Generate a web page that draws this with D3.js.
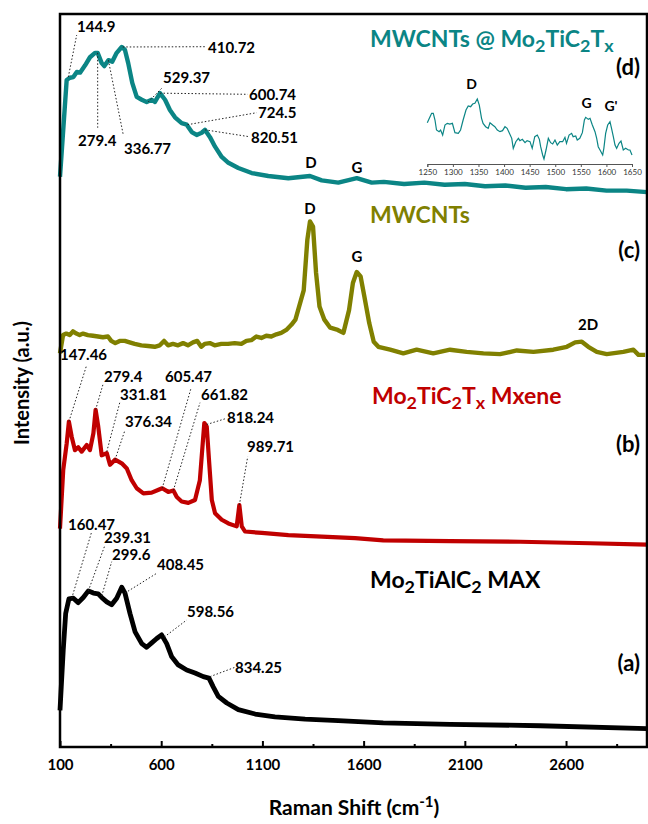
<!DOCTYPE html>
<html>
<head>
<meta charset="utf-8">
<script src="https://cdn.jsdelivr.net/npm/d3@7"></script>
<style>
body { margin: 0; background: #fff; }
text { font-family: Lato, "Open Sans", sans-serif; font-weight: bold; }
</style>
</head>
<body>
<svg id="chart" width="648" height="824"></svg>
<script>
// (a) Mo2TiAlC2 MAX
var a_shift = [100,116,128,144,166,190,215,240,265,289,306,331,355,380,405,421,446,471,504,528,553,578,602,627,652,684,726,767,808,836,857,882,924,981,1064,1162,1311,1475,1697,2027,2472,3000];
var a_int = [5.0,13.2,18.2,20.2,20.3,19.7,20.4,21.3,21.0,20.9,20.4,19.8,19.4,20.3,21.8,21.0,18.2,15.7,14.1,13.6,14.2,14.8,15.3,14.1,12.3,11.2,10.5,10.1,9.6,9.4,8.2,6.9,6.0,5.1,4.5,4.1,3.8,3.6,3.3,3.1,2.9,2.5];
// (b) Mo2TiC2Tx Mxene
var b_shift = [100,116,133,144,158,174,190,207,232,248,265,276,289,306,331,347,372,405,430,454,479,512,553,587,605,635,660,677,701,734,767,791,805,813,825,836,850,866,899,932,973,986,998,1014,1097,1228,1393,1558,1697,2027,2373,2719,3000];
var b_int = [29.8,37.8,41.4,44.4,42.3,40.5,40.9,40.3,41.2,40.5,42.8,46.0,43.7,39.8,40.1,38.5,39.2,38.7,38.0,36.4,35.3,34.6,34.7,35.1,35.3,34.8,35.0,34.1,33.5,33.3,33.7,36.4,41.4,44.2,43.7,39.2,33.7,31.9,31.0,30.5,30.1,33.0,30.1,29.4,29.2,28.9,28.7,28.5,28.2,28.1,28.0,27.8,27.6];
// (c) MWCNTs
var c_shift = [100,115,131,148,164,181,197,214,238,263,288,312,337,353,373,395,420,444,469,502,535,568,593,614,634,658,683,708,732,757,778,798,815,840,864,897,930,963,996,1021,1045,1070,1095,1119,1144,1169,1193,1218,1243,1263,1304,1322,1335,1350,1365,1382,1406,1435,1472,1500,1528,1547,1566,1585,1604,1628,1650,1673,1731,1796,1862,1944,2027,2109,2192,2274,2357,2439,2537,2604,2645,2678,2710,2752,2801,2883,2933,2958,2991];
var c_int = [53.7,56.2,56.4,56.2,56.7,56.4,56.2,56.4,56.2,56.1,56.0,55.9,56.0,55.4,55.1,55.4,55.4,55.2,55.0,54.8,54.7,54.6,54.8,55.4,54.8,55.0,54.8,55.1,54.8,55.2,55.4,54.6,55.0,55.1,54.8,55.0,55.0,55.1,55.0,55.4,55.5,56.0,55.8,56.1,56.0,56.3,56.5,56.9,57.6,58.3,62.3,69.2,71.7,71.0,64.7,60.1,58.3,57.2,56.9,56.5,59.6,63.3,64.8,64.2,61.4,57.8,55.3,54.6,54.2,53.7,54.2,53.7,54.2,53.9,53.7,53.6,54.1,53.9,54.2,54.6,55.2,55.3,54.6,53.9,53.6,53.9,54.2,53.5,53.5];
// (d) MWCNTs @ Mo2TiC2Tx
var d_shift = [100,133,149,166,183,199,224,248,273,286,306,319,339,358,380,405,421,437,457,479,504,528,553,569,594,619,643,668,701,726,751,775,800,816,841,866,899,932,981,1047,1129,1228,1335,1393,1475,1566,1640,1700,1800,1900,2000,2100,2200,2300,2400,2500,2600,2700,2800,2900,3000];
var d_int = [77.8,91.0,91.3,91.4,92.1,92.0,93.0,94.1,94.7,94.7,93.3,92.9,93.7,93.5,94.7,95.5,95.1,93.3,90.6,88.7,88.3,88.0,88.3,88.0,89.2,88.3,86.9,85.9,85.1,84.9,83.9,83.5,83.8,84.2,83.2,81.9,80.5,79.7,79.0,78.3,77.9,77.6,77.9,77.3,77.0,77.6,77.0,77.1,76.8,77.0,76.7,76.8,76.5,76.6,76.3,76.4,76.1,76.2,75.9,75.9,75.7];
// inset, 1250-1650 of (d)
var in_shift = [1250,1254,1258.5,1261.7,1265,1268,1273,1276,1280,1284.5,1289,1294,1299,1304,1310.6,1315,1320,1325.6,1330,1334.7,1338.6,1343,1347.7,1351.6,1356,1359,1364,1369,1372.5,1377.7,1382,1386.8,1392,1397,1401.8,1406,1410,1415,1418,1423,1428,1431,1435.7,1441,1445,1450.7,1455,1460,1465,1469,1471.5,1475.4,1478,1482,1486.5,1491,1495,1499.5,1504,1509,1514.5,1519,1522,1527,1532,1535,1540,1543,1548,1553,1557,1559.5,1564.7,1568,1572.5,1577.7,1581,1584,1587.5,1592.7,1595,1598.5,1602.5,1607,1610,1613.5,1616.8,1620,1624.6,1628.5,1633,1637.6,1643,1646,1650];
var in_int = [59,65.5,73,73,63,48,45.5,48,40.5,55.5,58,57,58,44,43,48,63,78,84,83,87,88,94.5,85.5,65.5,58,53,50.5,59,55.5,53,48,45.5,47,53,50.5,44,35.5,20.5,30.5,35.5,32,34,29,32,30.5,20.5,38,40.5,34,23,10.5,4.5,18,35.5,29,27,33,25.5,30.5,30.5,37,28,40.5,43,38,39,33,35.5,44,63,67,64,65.5,55.5,45.5,35.5,23,18,10.5,20.5,43,55.5,60.5,50.5,38,25.5,20.5,28,31.5,18,20.5,18,18,10.5];

var x_major = [100,600,1100,1600,2100,2600];
var x_minor = [350,850,1350,1850,2350,2850];
var in_ticks = [1250,1300,1350,1400,1450,1500,1550,1600,1650];

// peak labels: text, peak position [shift, intensity]
var a_peaks = [['160.47',[158,20.3]],['239.31',[240,21.3]],['299.6',[306,20.6]],['408.45',[421,21.0]],['598.56',[615,15.0]],['834.25',[841,9.6]]];
var b_peaks = [['147.46',[144,44.4]],['279.4',[276,46.0]],['331.81',[331,40.3]],['376.34',[372,39.2]],['605.47',[605,35.3]],['661.82',[660,35.0]],['818.24',[825,44.0]],['989.71',[986,33.0]]];
var d_peaks = [['144.9',[141,91.4]],['279.4',[286,94.7]],['336.77',[339,93.7]],['410.72',[410,95.5]],['529.37',[536,88.0]],['600.74',[594,89.2]],['724.5',[730,84.9]],['820.51',[816,84.2]]];

var svg = d3.select('#chart');
var pl = 60, pr = 647, pt = 14, pb = 747;
var x = d3.scaleLinear().domain([100,3000]).range([pl,pr]);
var y = d3.scaleLinear().domain([0,100]).range([pb,pt]);

var series = [
	{sx: a_shift, iy: a_int, col: '#000000', w: 4.8},
	{sx: b_shift, iy: b_int, col: '#c00000', w: 4.2},
	{sx: c_shift, iy: c_int, col: '#808000', w: 4.4},
	{sx: d_shift, iy: d_int, col: '#0b8585', w: 4.4}
];
var line = d3.line().x(d => x(d[0])).y(d => y(d[1]));
series.forEach(function(s) {
	svg.append('path').datum(d3.zip(s.sx, s.iy))
		.attr('d', line).attr('fill','none').attr('stroke', s.col)
		.attr('stroke-width', s.w).attr('stroke-linejoin','round');
});

// frame + axis
svg.append('rect').attr('x',pl).attr('y',pt).attr('width',pr-pl).attr('height',pb-pt)
	.attr('fill','none').attr('stroke','#000').attr('stroke-width',2.5);
var gx = svg.append('g').attr('transform','translate(0,'+pb+')')
	.call(d3.axisBottom(x).tickValues(x_major).tickFormat(d3.format('d')).tickSize(-6).tickPadding(12));
gx.select('.domain').remove();
gx.selectAll('line').attr('stroke-width',2);
gx.selectAll('text').style('font-size','15px').attr('fill','#000');
var gm = svg.append('g').attr('transform','translate(0,'+pb+')')
	.call(d3.axisBottom(x).tickValues(x_minor).tickFormat('').tickSize(-3));
gm.select('.domain').remove();
gm.selectAll('line').attr('stroke-width',2);

// axis titles
svg.append('text').attr('transform','translate(29,383) rotate(-90)').attr('text-anchor','middle')
	.style('font-size','20px').text('Intensity (a.u.)');
var xt = svg.append('text').attr('x',354).attr('y',815).attr('text-anchor','middle').style('font-size','21px');
xt.append('tspan').text('Raman Shift (cm');
xt.append('tspan').attr('dy',-8).style('font-size','15px').text('-1');
xt.append('tspan').attr('dy',8).text(')');

// formula helper: parts [text, isSub]
function formula(px, py, parts, col, size) {
	var t = svg.append('text').attr('x',px).attr('y',py).attr('fill',col).style('font-size',size+'px');
	var down = false;
	parts.forEach(function(p) {
		var ts = t.append('tspan').text(p[0]);
		if (p[1] && !down) { ts.attr('dy', size*0.22).style('font-size',(size*0.78)+'px'); down = true; }
		else if (!p[1] && down) { ts.attr('dy', -size*0.22); down = false; }
		else if (p[1]) ts.style('font-size',(size*0.78)+'px');
	});
	return t;
}
formula(370, 47, [['MWCNTs @ Mo',0],['2',1],['TiC',0],['2',1],['T',0],['x',1]], '#0b8585', 23);
formula(370, 223, [['MWCNTs',0]], '#808000', 23);
formula(372, 404, [['Mo',0],['2',1],['TiC',0],['2',1],['T',0],['x',1],[' Mxene',0]], '#c00000', 23);
formula(370, 588, [['Mo',0],['2',1],['TiAlC',0],['2',1],[' MAX',0]], '#000', 23);

var panels = [['(d)',75],['(c)',258],['(b)',452],['(a)',671]];
svg.selectAll('.panel').data(panels).enter().append('text')
	.attr('x',640).attr('y',d => d[1]).attr('text-anchor','end').style('font-size','22px').text(d => d[0]);

// peak annotations; label layout [textX, baseline, leaderEndX, leaderEndY]
var a_lay = [[68,530,91.7,531.7],[104,543,105,545],[112,560,111.7,561.7],[157,570,156.7,573.3],[187,617,186.7,620],[235,673,235,667.3]];
var b_lay = [[60,360,86.7,365],[104,382,103.3,383.3],[120,400,120,401.7],[125,427,125,430],[165,382,191,388.3],[201,400,200,402.7],[227,423,226.7,418.3],[247,452,247.7,456.7]];
var d_lay = [[77,32,76.7,35],[78,146,97.7,127.7],[124,154,123.3,135],[208,53,206.7,46.7],[163,83,161.7,88.3],[249,100,247.7,94.3],[258,118,256.7,112.7],[251,143,249.3,136.7]];

function annotate(peaks, lay) {
	peaks.forEach(function(p, i) {
		var l = lay[i];
		svg.append('line').attr('x1', x(p[1][0])).attr('y1', y(p[1][1])).attr('x2', l[2]).attr('y2', l[3])
			.attr('stroke', '#222').attr('stroke-width', 1).attr('stroke-dasharray', '1.5,2');
		svg.append('text').attr('x', l[0]).attr('y', l[1]).style('font-size','15px').text(p[0]);
	});
}
annotate(a_peaks, a_lay);
annotate(b_peaks, b_lay);
annotate(d_peaks, d_lay);

// band letters
var bands = [['D',311,168],['G',357,173],['D',310,214],['G',357,262],['2D',588,330]];
svg.selectAll('.band').data(bands).enter().append('text')
	.attr('x', d => d[1]).attr('y', d => d[2]).attr('text-anchor','middle').style('font-size','15px').text(d => d[0]);

// inset
var ix = d3.scaleLinear().domain([1250,1650]).range([427.3,632]);
var iy = d3.scaleLinear().domain([0,95]).range([162,98.7]);
svg.append('path').datum(d3.zip(in_shift, in_int))
	.attr('d', d3.line().x(d => ix(d[0])).y(d => iy(d[1])))
	.attr('fill','none').attr('stroke','#0b8585').attr('stroke-width',1.2);
var gi = svg.append('g').attr('transform','translate(0,164)')
	.call(d3.axisBottom(ix).tickValues(in_ticks).tickFormat(d3.format('d')).tickSize(3).tickPadding(2));
gi.select('.domain').attr('stroke','#555');
gi.selectAll('line').attr('stroke','#555');
gi.selectAll('text').style('font-size','8px').style('font-weight','normal').attr('fill','#333');
var ibands = [['D',471.7,89],['G',586.7,108],["G'",611,111]];
svg.selectAll('.iband').data(ibands).enter().append('text')
	.attr('x', d => d[1]).attr('y', d => d[2]).attr('text-anchor','middle').style('font-size','14px').text(d => d[0]);
</script>
</body>
</html>
